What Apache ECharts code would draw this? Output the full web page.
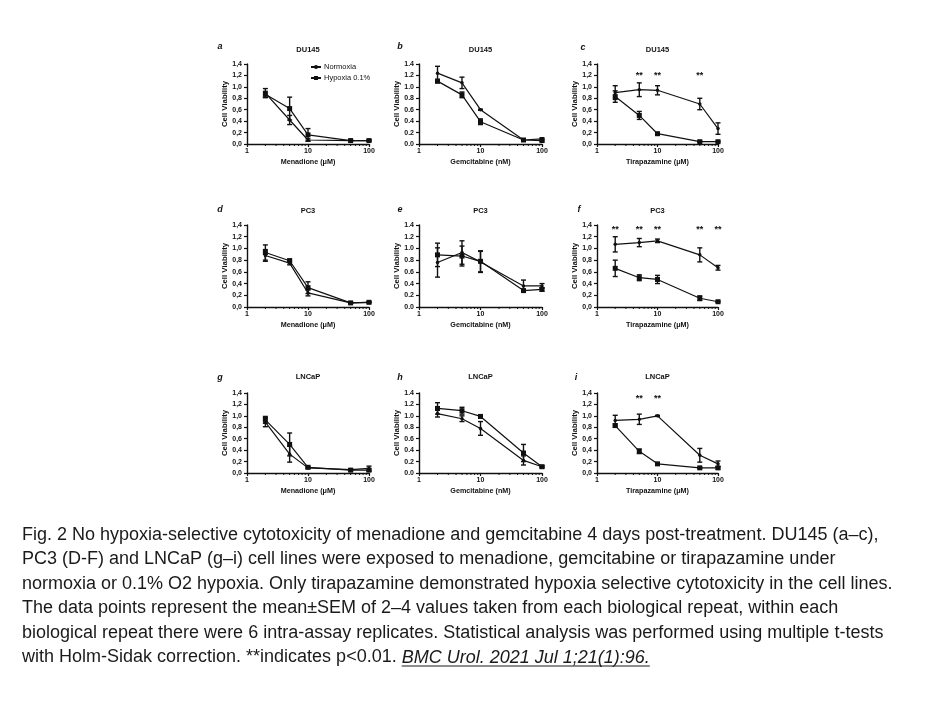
<!DOCTYPE html>
<html><head><meta charset="utf-8">
<script src="https://cdn.jsdelivr.net/npm/echarts@6/dist/echarts.min.js"></script>
<style>html,body{margin:0;padding:0;background:#fff}#c{width:945px;height:709px}</style>
</head><body><div id="c"></div>
<script>
// ---------- DATA ----------
const doses = [2, 5, 10, 50, 100];
const minorTickValues = [2,3,4,5,6,7,8,9,20,30,40,50,60,70,80,90];
const yTicks = [0, 0.2, 0.4, 0.6, 0.8, 1.0, 1.2, 1.4];
const seriesNames = ['Normoxia', 'Hypoxia 0.1%'];
const cellLines = ['DU145', 'PC3', 'LNCaP'];
const drugs = ['Menadione (\u03bcM)', 'Gemcitabine (nM)', 'Tirapazamine (\u03bcM)'];
const panelLetters = ['a','b','c','d','e','f','g','h','i'];

// a: DU145 Menadione
const normA = [0.89, 0.42, 0.07, 0.06, 0.06];
const normA_sem = [0.08, 0.08, 0.02, 0.01, 0.01];
const hypA = [0.87, 0.62, 0.16, 0.06, 0.06];
const hypA_sem = [0.05, 0.20, 0.11, 0.01, 0.01];
// b: DU145 Gemcitabine
const normB = [1.24, 1.07, 0.60, 0.07, 0.09];
const normB_sem = [0.12, 0.10, 0.01, 0.01, 0.02];
const hypB = [1.10, 0.86, 0.39, 0.07, 0.06];
const hypB_sem = [0.03, 0.05, 0.05, 0.01, 0.02];
// c: DU145 Tirapazamine
const normC = [0.90, 0.95, 0.94, 0.70, 0.27];
const normC_sem = [0.12, 0.12, 0.08, 0.10, 0.10];
const hypC = [0.83, 0.50, 0.18, 0.04, 0.04];
const hypC_sem = [0.10, 0.07, 0.02, 0.01, 0.01];
// d: PC3 Menadione
const normD = [0.88, 0.75, 0.24, 0.07, 0.08];
const normD_sem = [0.10, 0.03, 0.05, 0.01, 0.01];
const hypD = [0.93, 0.79, 0.33, 0.07, 0.08];
const hypD_sem = [0.13, 0.03, 0.10, 0.01, 0.01];
// e: PC3 Gemcitabine
const normE = [0.76, 0.93, 0.77, 0.36, 0.36];
const normE_sem = [0.25, 0.20, 0.18, 0.10, 0.04];
const hypE = [0.89, 0.87, 0.78, 0.28, 0.30];
const hypE_sem = [0.20, 0.17, 0.18, 0.02, 0.03];
// f: PC3 Tirapazamine
const normF = [1.07, 1.10, 1.13, 0.89, 0.67];
const normF_sem = [0.13, 0.07, 0.03, 0.12, 0.04];
const hypF = [0.66, 0.50, 0.47, 0.15, 0.09];
const hypF_sem = [0.14, 0.05, 0.07, 0.04, 0.01];
// g: LNCaP Menadione
const normG = [0.89, 0.33, 0.09, 0.06, 0.08];
const normG_sem = [0.08, 0.14, 0.01, 0.01, 0.04];
const hypG = [0.93, 0.50, 0.10, 0.05, 0.05];
const hypG_sem = [0.06, 0.20, 0.02, 0.02, 0.02];
// h: LNCaP Gemcitabine
const normH = [1.04, 0.95, 0.78, 0.22, 0.11];
const normH_sem = [0.06, 0.05, 0.12, 0.08, 0.01];
const hypH = [1.13, 1.09, 0.99, 0.35, 0.11];
const hypH_sem = [0.10, 0.06, 0.02, 0.15, 0.02];
// i: LNCaP Tirapazamine
const normI = [0.92, 0.94, 1.00, 0.31, 0.16];
const normI_sem = [0.09, 0.09, 0.01, 0.12, 0.05];
const hypI = [0.83, 0.38, 0.16, 0.09, 0.09];
const hypI_sem = [0.03, 0.04, 0.01, 0.01, 0.02];

// significance markers (dose, height)
const starsC = [5, 10, 50];
const starsC_y = 1.2;
const starsF = [2, 5, 10, 50, 100];
const starsF_y = 1.32;
const starsI = [5, 10];
const starsI_y = 1.3;

const captionLines = [
  'Fig. 2 No hypoxia-selective cytotoxicity of menadione and gemcitabine 4 days post-treatment. DU145 (a\u2013c),',
  'PC3 (D-F) and LNCaP (g\u2013i) cell lines were exposed to menadione, gemcitabine or tirapazamine under',
  'normoxia or 0.1% O2 hypoxia. Only tirapazamine demonstrated hypoxia selective cytotoxicity in the cell lines.',
  'The data points represent the mean\u00b1SEM of 2\u20134 values taken from each biological repeat, within each',
  'biological repeat there were 6 intra-assay replicates. Statistical analysis was performed using multiple t-tests'
];
const captionLastPlain = 'with Holm-Sidak correction. **indicates p<0.01. ';
const captionCitation = 'BMC Urol. 2021 Jul 1;21(1):96.';

// ---------- LAYOUT ----------
const colLeft = [247, 419, 597];
const colWidth = [122, 123, 121];
const rowTop = [64, 225, 393];
const rowHeight = [80, 82, 80];
const letterPos = [[220,47],[400,47],[583,48],[220,210],[400,210],[579,210],[220,378],[400,378],[576,378]];
const titleY = [50, 211, 377];
const FONT = '"Liberation Sans", Arial, sans-serif';

const panels = [
  [normA, normA_sem, hypA, hypA_sem, null, 0],
  [normB, normB_sem, hypB, hypB_sem, null, 0],
  [normC, normC_sem, hypC, hypC_sem, starsC, starsC_y],
  [normD, normD_sem, hypD, hypD_sem, null, 0],
  [normE, normE_sem, hypE, hypE_sem, null, 0],
  [normF, normF_sem, hypF, hypF_sem, starsF, starsF_y],
  [normG, normG_sem, hypG, hypG_sem, null, 0],
  [normH, normH_sem, hypH, hypH_sem, null, 0],
  [normI, normI_sem, hypI, hypI_sem, starsI, starsI_y]
];

const grids = [], xAxes = [], yAxes = [], series = [], graphics = [];

function errRender(params, api) {
  const x = api.value(0), lo = api.value(1), hi = api.value(2);
  const a = api.coord([x, lo]), b = api.coord([x, hi]);
  const w = 2.5;
  const st = {stroke: '#111', lineWidth: 1.4};
  return {type: 'group', children: [
    {type: 'line', shape: {x1: a[0], y1: a[1], x2: b[0], y2: b[1]}, style: st},
    {type: 'line', shape: {x1: a[0]-w, y1: a[1], x2: a[0]+w, y2: a[1]}, style: st},
    {type: 'line', shape: {x1: b[0]-w, y1: b[1], x2: b[0]+w, y2: b[1]}, style: st}
  ]};
}
function minorRender(params, api) {
  const p = api.coord([api.value(0), 0]);
  return {type: 'line', shape: {x1: p[0], y1: p[1], x2: p[0], y2: p[1] + 2}, style: {stroke: '#111', lineWidth: 1}};
}
function starRender(params, api) {
  const p = api.coord([api.value(0), api.value(1)]);
  return {type: 'text', x: p[0], y: p[1], style: {text: '**', fill: '#111', font: 'bold 9px ' + FONT, textAlign: 'center', textVerticalAlign: 'middle'}};
}

panels.forEach((pn, i) => {
  const r = Math.floor(i / 3), c = i % 3;
  const [nm, nms, hp, hps, stars, starY] = pn;
  grids.push({left: colLeft[c], top: rowTop[r], width: colWidth[c], height: rowHeight[r], containLabel: false});
  xAxes.push({
    type: 'log', logBase: 10, min: 1, max: 100, gridIndex: i,
    name: drugs[c], nameLocation: 'middle', nameGap: 15,
    nameTextStyle: {fontFamily: FONT, fontWeight: 'bold', fontSize: 7.2, color: '#111'},
    axisLine: {lineStyle: {color: '#111', width: 1.4}},
    axisTick: {length: 3, lineStyle: {color: '#111', width: 1.2}},
    axisLabel: {fontFamily: FONT, fontWeight: 'bold', fontSize: 7, color: '#111', margin: 4},
    splitLine: {show: false}
  });
  const useComma = (c !== 1);
  yAxes.push({
    type: 'value', min: 0, max: 1.4, interval: 0.2, gridIndex: i,
    name: 'Cell Viability', nameLocation: 'middle', nameGap: 15, nameRotate: 90,
    nameTextStyle: {fontFamily: FONT, fontWeight: 'bold', fontSize: 7.8, color: '#111'},
    axisLine: {show: true, lineStyle: {color: '#111', width: 1.4}},
    axisTick: {show: true, length: 3, lineStyle: {color: '#111', width: 1.2}},
    axisLabel: {fontFamily: FONT, fontWeight: 'bold', fontSize: 7, color: '#111', margin: 5,
      formatter: v => { const s = (Math.round(v * 10) / 10).toFixed(1); return useComma ? s.replace('.', ',') : s; }},
    splitLine: {show: false}
  });
  const lineBase = {type: 'line', xAxisIndex: i, yAxisIndex: i, color: '#111',
    lineStyle: {color: '#111', width: 1.2}, itemStyle: {color: '#111'}, z: 3, animation: false};
  series.push(Object.assign({}, lineBase, {name: seriesNames[0], symbol: 'circle', symbolSize: 3.5,
    data: doses.map((d, k) => [d, nm[k]])}));
  series.push(Object.assign({}, lineBase, {name: seriesNames[1], symbol: 'rect', symbolSize: 5,
    data: doses.map((d, k) => [d, hp[k]])}));
  series.push({type: 'custom', xAxisIndex: i, yAxisIndex: i, renderItem: errRender, silent: true, z: 4,
    encode: {x: 0, y: [1, 2]}, animation: false,
    data: doses.map((d, k) => [d, nm[k] - nms[k], nm[k] + nms[k]]).concat(doses.map((d, k) => [d, hp[k] - hps[k], hp[k] + hps[k]]))});
  series.push({type: 'custom', xAxisIndex: i, yAxisIndex: i, renderItem: minorRender, silent: true, animation: false,
    encode: {x: 0, y: 1}, data: minorTickValues.map(v => [v, 0])});
  if (stars) {
    series.push({type: 'custom', xAxisIndex: i, yAxisIndex: i, renderItem: starRender, silent: true, animation: false,
      encode: {x: 0, y: 1}, data: stars.map(v => [v, starY])});
  }
  graphics.push({type: 'text', x: letterPos[i][0], y: letterPos[i][1],
    style: {text: panelLetters[i], font: 'italic bold 9px ' + FONT, fill: '#111', textAlign: 'center', textVerticalAlign: 'middle'}});
  graphics.push({type: 'text', x: colLeft[c] + colWidth[c] / 2, y: titleY[r],
    style: {text: cellLines[r], font: 'bold 7.5px ' + FONT, fill: '#111', textAlign: 'center', textVerticalAlign: 'middle'}});
});

// caption
const capFont = '18px ' + FONT;
const capX = 22, capY0 = 535, capGap = 24.5;
captionLines.forEach((t, k) => {
  graphics.push({type: 'text', x: capX, y: capY0 + k * capGap,
    style: {text: t, font: capFont, fill: '#1a1a1a', textAlign: 'left', textVerticalAlign: 'middle'}});
});
const lastY = capY0 + 5 * capGap;
graphics.push({type: 'text', x: capX, y: lastY,
  style: {text: captionLastPlain, font: capFont, fill: '#1a1a1a', textAlign: 'left', textVerticalAlign: 'middle'}});
const mc = document.createElement('canvas').getContext('2d');
mc.font = capFont;
const plainW = mc.measureText(captionLastPlain).width;
mc.font = 'italic ' + capFont;
const citeW = mc.measureText(captionCitation).width;
graphics.push({type: 'text', x: capX + plainW, y: lastY,
  style: {text: captionCitation, font: 'italic ' + capFont, fill: '#1a1a1a', textAlign: 'left', textVerticalAlign: 'middle'}});
graphics.push({type: 'line', shape: {x1: capX + plainW, y1: lastY + 8.5, x2: capX + plainW + citeW, y2: lastY + 8.5},
  style: {stroke: '#1a1a1a', lineWidth: 1}});

const chart = echarts.init(document.getElementById('c'), null, {renderer: 'canvas'});
chart.setOption({
  backgroundColor: '#fff',
  animation: false,
  textStyle: {fontFamily: FONT},
  grid: grids, xAxis: xAxes, yAxis: yAxes, series: series,
  legend: {data: seriesNames, orient: 'vertical', left: 310, top: 63, itemWidth: 10, itemHeight: 5, itemGap: 3,
    textStyle: {fontFamily: FONT, fontSize: 7.5, color: '#111', padding: [0, 0, 0, -2]}, selectedMode: false, padding: 0},
  graphic: graphics
});
</script></body></html>
